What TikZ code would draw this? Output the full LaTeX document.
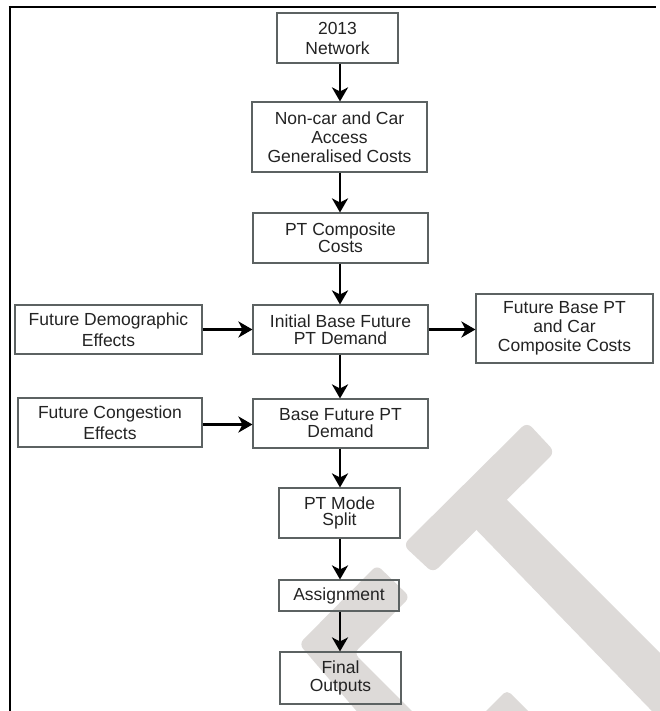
\documentclass[tikz,border=0pt]{standalone}
\usepackage{fontspec}
\setmainfont{Liberation Sans}
\usetikzlibrary{arrows.meta}

\definecolor{boxline}{RGB}{92,98,98}
\definecolor{inktext}{RGB}{35,35,35}
\definecolor{wmark}{RGB}{221,218,216}

\tikzset{
  stepbox/.style={draw=boxline, line width=1.1pt, align=center, inner sep=0pt,
    text=inktext, font=\fontsize{17.5}{18}\selectfont},
  lead/.style={font=\fontsize{17.5}{#1}\selectfont},
  flow/.style={line width=2.9pt, black,
    -{Stealth[length=14pt,width=16pt,inset=4pt]}},
  wm/.style={fill=wmark, draw=none},
}

\begin{document}
\begin{tikzpicture}[x=1pt,y=-1pt]
\useasboundingbox (0,0) rectangle (660,711);

% light grey background mark
\begin{scope}
  \clip (0,0) rectangle (660,711);
  \fill[wm, rounded corners=7pt] (527,422) -- (555,452) -- (433,573) -- (403,545) -- cycle;
  \fill[wm] (492,485) -- (680,673) -- (680,740) -- (462,515) -- cycle;
  \fill[wm, rounded corners=6pt] (377,565) -- (410,597) -- (354,653) -- (430,729)
        -- (372,729) -- (299,644) -- cycle;
  \fill[wm, rounded corners=5pt] (480,717) -- (507,690) -- (534,717) -- cycle;
\end{scope}

% frame lines
\draw[line width=2.5pt] (8.5,7) -- (656,7);
\draw[line width=2pt] (9.5,6) -- (9.5,711);

% spine of the main column
\coordinate (spine) at (340,0);

% boxes
\node[stepbox, lead=20, minimum width=121pt, minimum height=50pt] (net) at (337.5,38) {2013\\Network};
\node[stepbox, lead=19, minimum width=175pt, minimum height=70pt] (access) at (339.5,137) {Non-car and Car\\Access\\Generalised Costs};
\node[stepbox, lead=17, minimum width=175pt, minimum height=50pt] (ptcomp) at (340.5,238) {PT Composite\\Costs};
\node[stepbox, lead=16.5, minimum width=175pt, minimum height=49pt] (initial) at (340.5,329.5) {Initial Base Future\\PT Demand};
\node[stepbox, lead=17, minimum width=175pt, minimum height=49pt] (basefut) at (340.5,423.5) {Base Future PT\\Demand};
\node[stepbox, lead=21, minimum width=187pt, minimum height=49pt] (demog) at (108.5,329.5) {Future Demographic\\Effects};
\node[stepbox, lead=21, minimum width=184pt, minimum height=49pt] (cong) at (110,422.5) {Future Congestion\\Effects};
\node[stepbox, lead=19, minimum width=177pt, minimum height=69pt] (fbase) at (564.5,328.5) {Future Base PT\\and Car\\Composite Costs};
\node[stepbox, lead=16.5, minimum width=121pt, minimum height=50pt] (mode) at (339.5,513) {PT Mode\\Split};
\node[stepbox, minimum width=120pt, minimum height=31pt] (assign) at (339,595.5) {Assignment};
\node[stepbox, lead=18, minimum width=121pt, minimum height=52pt] (final) at (340.5,678) {Final\\Outputs};

% vertical flow
\draw[flow] (net.south -| spine) -- (access.north -| spine);
\draw[flow] (access.south -| spine) -- (ptcomp.north -| spine);
\draw[flow] (ptcomp.south -| spine) -- (initial.north -| spine);
\draw[flow] (initial.south -| spine) -- (basefut.north -| spine);
\draw[flow] (basefut.south -| spine) -- (mode.north -| spine);
\draw[flow] (mode.south -| spine) -- (assign.north -| spine);
\draw[flow] (assign.south -| spine) -- (final.north -| spine);

% side inputs and output
\draw[flow] (demog.east) -- (demog.east -| initial.west);
\draw[flow] (initial.east) -- (initial.east -| fbase.west);
\draw[flow] ([yshift=-2pt]cong.east) -- ([yshift=-2pt]cong.east -| basefut.west);
\end{tikzpicture}
\end{document}
